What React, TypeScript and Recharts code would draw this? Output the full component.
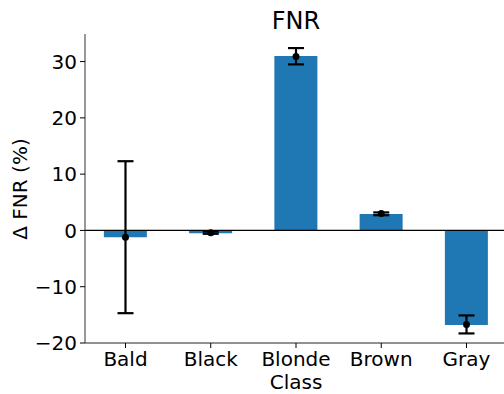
import React from "react";
import {
  ComposedChart,
  Bar,
  Scatter,
  ErrorBar,
  XAxis,
  YAxis,
  ReferenceLine
} from "recharts";

const categories = ["Bald", "Black", "Blonde", "Brown", "Gray"];
const barValues = [-1.2, -0.5, 31.0, 2.9, -16.8];
const meanValues = [-1.2, -0.4, 30.9, 3.0, -16.7];
const errLow = [-14.7, -0.6, 29.5, 2.7, -18.3];
const errHigh = [12.3, -0.2, 32.4, 3.2, -15.1];
const yTicks = [-20, -10, 0, 10, 20, 30];

const data = categories.map((name, i) => ({
  x: i,
  name,
  bar: barValues[i],
  mean: meanValues[i],
  err: [meanValues[i] - errLow[i], errHigh[i] - meanValues[i]]
}));

const font = "DejaVu Sans";
const minus = (v: number) => String(v).replace("-", "\u2212");

const Dot = (props: any) => (
  <circle cx={props.cx} cy={props.cy} r={3.5} fill="#000" />
);

export default function App() {
  return (
    <div
      style={{
        position: "absolute",
        left: 0,
        top: 0,
        width: 504,
        height: 394,
        overflow: "hidden",
        background: "#fff",
        fontFamily: font
      }}
    >
      <ComposedChart
        width={512}
        height={394}
        data={data}
        margin={{ top: 34, right: 5, bottom: 0, left: 0 }}
      >
        <XAxis
          xAxisId="top"
          orientation="top"
          type="number"
          dataKey="x"
          domain={[-0.475, 4.475]}
          height={0}
          tick={false}
          tickLine={false}
          axisLine={{ stroke: "#333", strokeWidth: 1 }}
        />
        <XAxis
          type="number"
          dataKey="x"
          domain={[-0.475, 4.475]}
          ticks={[0, 1, 2, 3, 4]}
          interval={0}
          tickFormatter={(i: number) => categories[i]}
          height={51}
          tickSize={5}
          tickMargin={4}
          tick={{ fill: "#000", fontSize: 20, fontFamily: font }}
          tickLine={{ stroke: "#000" }}
          axisLine={{ stroke: "#222", strokeWidth: 1 }}
          label={{
            value: "Class",
            position: "insideBottom",
            offset: 5,
            fill: "#000",
            fontSize: 20,
            fontFamily: font
          }}
        />
        <YAxis
          type="number"
          domain={[-20, 34.9]}
          ticks={yTicks}
          allowDataOverflow
          width={85}
          tickSize={5}
          tickMargin={3}
          tickFormatter={minus}
          tick={{ fill: "#000", fontSize: 20, fontFamily: font }}
          tickLine={{ stroke: "#000" }}
          axisLine={{ stroke: "#333", strokeWidth: 1 }}
        />
        <Bar
          dataKey="bar"
          fill="#1f77b4"
          barSize={43}
          isAnimationActive={false}
        />
        <ReferenceLine y={0} stroke="#000" strokeWidth={1.3} />
        <Scatter dataKey="mean" shape={<Dot />} isAnimationActive={false}>
          <ErrorBar
            dataKey="err"
            direction="y"
            width={8}
            stroke="#000"
            strokeWidth={2.2}
            isAnimationActive={false}
          />
        </Scatter>
      </ComposedChart>
      <svg
        width={504}
        height={394}
        style={{ position: "absolute", left: 0, top: 0, pointerEvents: "none" }}
      >
        <text
          x={296}
          y={29.3}
          textAnchor="middle"
          fontSize={24}
          fontFamily={font}
          fill="#000"
        >
          FNR
        </text>
        <text
          x={26.7}
          y={189}
          transform="rotate(-90 26.7 189)"
          textAnchor="middle"
          fontSize={20}
          fontFamily={font}
          fill="#000"
        >
          Δ FNR (%)
        </text>
      </svg>
    </div>
  );
}
